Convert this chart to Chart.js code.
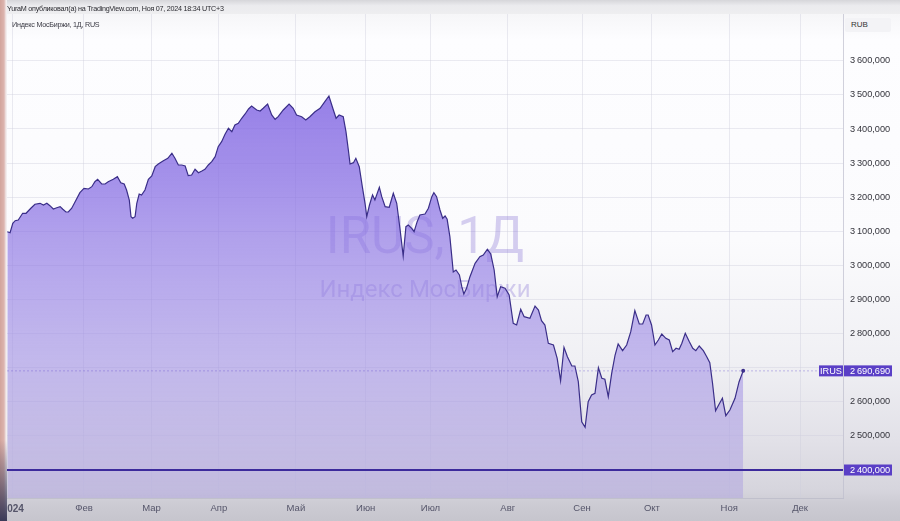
<!DOCTYPE html>
<html>
<head>
<meta charset="utf-8">
<script src="https://cdn.jsdelivr.net/npm/chart.js@4.4.1/dist/chart.umd.min.js"></script>
<style>
html,body{margin:0;padding:0;width:900px;height:521px;overflow:hidden;}
body{position:relative;font-family:"Liberation Sans",Arial,sans-serif;
 background:linear-gradient(to bottom,#e9e9ec 0px,#f6f6f8 14px,#fdfdff 40px,#fbfbfd 240px,#f0f0f4 360px,#e2e1e8 440px,#d6d5dd 490px,#cccbd3 505px,#c6c5cd 521px);}
#strip{position:absolute;left:0;top:0;width:7px;height:521px;z-index:5;background:linear-gradient(to right,#d2a49c 0px,#dcb4ae 4px,#f1e9ea 6px,#f4f1f2 7px);}
#stripb{position:absolute;left:0;top:440px;width:7px;height:81px;z-index:6;background:linear-gradient(to bottom,rgba(60,60,90,0),#3a3a58);}
#hdrbar{position:absolute;left:6px;top:0;width:894px;height:14px;background:linear-gradient(to bottom,#d6d6da,#ebebee 40%,#eeeef0);}
#hdr{position:absolute;left:7px;top:4px;font-size:7.2px;letter-spacing:-0.25px;color:#2a2a30;white-space:nowrap;z-index:7;}
#leg{position:absolute;left:12px;top:19.5px;font-size:7.2px;letter-spacing:-0.25px;color:#3a3a44;white-space:nowrap;}
#wrap{position:absolute;left:3px;top:0;width:897px;height:521px;}
#rub{position:absolute;left:845px;top:18px;width:46px;height:14px;background:#f3f3f6;border-radius:2px;font-size:8px;color:#333;line-height:14px;text-indent:6px;}
</style>
</head>
<body>
<div id="hdrbar"></div>
<div id="wrap"><canvas id="c" width="897" height="521"></canvas></div>
<div id="strip"></div>
<div id="stripb"></div>
<div id="hdr">YuraM опубликовал(а) на TradingView.com, Ноя 07, 2024 18:34 UTC+3</div>
<div id="leg">Индекс МосБиржи, 1Д, RUS</div>
<div id="rub">RUB</div>
<script>
// ---- data (trading-day index from first bar of 2024, close value) ----
const dayIndex = [0.0,0.8,1.6,2.3,3.2,4.5,5.5,6.9,8.1,9.6,10.6,11.6,12.5,13.5,14.5,15.5,16.3,17.2,17.9,18.9,
19.9,21.3,22.5,23.8,24.8,25.7,26.5,27.7,28.7,29.6,31.1,32.3,33.3,34.3,35.0,35.8,36.3,36.8,37.5,38.0,
38.7,39.4,40.4,41.4,42.4,43.4,44.3,45.8,47.1,48.3,49.2,50.2,51.2,52.2,53.1,54.1,55.1,56.1,57.1,58.0,
59.0,60.0,61.0,61.9,62.9,63.9,64.9,65.9,66.8,67.8,68.8,69.8,70.8,71.7,73.2,74.2,75.1,76.4,77.6,78.6,
79.5,81.0,82.7,83.9,84.9,86.4,87.6,88.8,90.3,91.8,93.2,94.4,95.7,96.5,97.4,98.6,99.4,100.1,100.6,101.6,
102.3,103.3,104.2,105.0,105.5,106.3,107.2,107.9,109.2,109.9,110.9,112.1,113.3,114.3,115.3,116.2,117.0,117.7,118.7,119.4,
120.3,121.1,122.6,123.6,124.6,125.2,126.0,127.0,127.8,128.5,129.1,129.9,130.9,131.7,132.7,133.4,134.0,134.8,135.8,137.3,
138.7,139.7,140.9,141.9,142.9,143.8,144.8,146.1,147.3,148.5,149.5,150.7,151.7,153.4,154.9,155.9,156.8,157.8,158.8,160.3,
161.4,162.4,163.4,164.4,165.7,166.6,167.6,168.6,169.6,170.5,171.5,172.5,173.5,174.5,175.4,176.4,177.4,178.4,179.3,180.6,
181.8,183.0,184.2,185.5,186.5,187.5,188.1,189.1,190.1,191.1,192.1,193.3,194.3,195.3,196.3,197.2,198.0,199.0,200.2,201.2,
202.1,203.1,204.3,205.3,206.2,207.0,207.9,208.8,209.9,210.9,212.1,213.6,214.8,216.0];
const closeValues = [3098.8,3095.9,3123.5,3131.1,3133.2,3152.8,3152.8,3167.5,3179.2,3182.1,3177.1,3182.1,3175.1,3165.4,3169.2,3172.2,3164.5,3156.6,3156.6,3167.5,
3186.8,3213.2,3226.1,3224.1,3230.8,3245.5,3252.5,3238.7,3238.7,3245.5,3252.5,3260.1,3242.5,3238.7,3221.1,3191.8,3142.8,3138.1,3142.8,3182.1,
3209.4,3206.5,3221.1,3252.5,3262.2,3289.5,3297.4,3307.1,3314.1,3328.8,3314.1,3294.4,3294.4,3291.5,3263.1,3265.1,3281.8,3271.9,3276.8,3281.8,
3294.4,3304.1,3318.8,3348.1,3362.8,3384.5,3402.1,3392.1,3411.7,3416.7,3431.4,3444.0,3458.7,3467.5,3455.7,3452.8,3460.7,3473.3,3441.1,3428.5,
3436.1,3455.7,3473.3,3460.7,3441.1,3436.1,3426.4,3436.1,3450.7,3460.7,3480.1,3496.8,3455.7,3431.4,3441.1,3436.1,3392.1,3338.4,3297.4,3301.2,
3314.1,3289.5,3230.8,3182.1,3142.8,3177.1,3206.5,3191.8,3229.0,3201.5,3172.2,3170.4,3211.5,3182.1,3103.8,3027.6,3113.5,3118.5,3108.8,3098.8,
3128.2,3147.8,3150.7,3167.5,3201.5,3213.2,3201.5,3162.5,3138.1,3144.9,3135.2,3084.2,2980.7,2986.5,2971.9,2937.5,2916.1,2932.9,2966.9,3006.2,
3025.5,3030.5,3047.2,3033.4,2986.5,2908.2,2937.5,2932.9,2913.2,2830.2,2825.2,2871.3,2849.6,2844.9,2880.9,2869.2,2837.8,2825.2,2771.6,2766.6,
2727.6,2661.9,2759.8,2732.3,2705.0,2705.0,2659.0,2541.6,2525.2,2600.3,2619.9,2624.9,2700.0,2668.9,2666.0,2615.0,2683.6,2737.2,2769.5,2749.9,
2766.6,2805.6,2867.2,2828.2,2828.2,2854.6,2854.6,2825.2,2766.6,2781.2,2798.8,2786.2,2781.2,2746.9,2756.9,2754.0,2771.6,2800.9,2776.2,2756.9,
2749.9,2763.6,2749.9,2732.3,2714.7,2654.3,2573.9,2590.6,2610.3,2559.2,2576.0,2610.3,2659.0,2690.69];
const monthTickIdx = [1.6,22.5,42.3,62.1,84.7,105.2,124.2,146.9,168.7,189.2,211.9,232.7];
const monthLabels = ['2024','Фев','Мар','Апр','Май','Июн','Июл','Авг','Сен','Окт','Ноя','Дек'];
const priceTicks = [2400,2500,2600,2700,2800,2900,3000,3100,3200,3300,3400,3500,3600];
const levelValue = 2400;
const seriesName = 'IRUS';
const watermarkTitle = 'IRUS, 1Д';
const watermarkSub = 'Индекс МосБиржи';

const xMin = -0.1, xMax = 245.3;
const yMin = 2317.9, yMax = 3737.2;
const lastValue = closeValues[closeValues.length - 1];

function pad3(n){ return String(n).padStart(3,'0'); }
function fmt(v){
  const i = Math.floor(v + 1e-9);
  const dec = Math.round((v - i) * 1000);
  return Math.floor(i/1000) + '\u2009' + pad3(i % 1000) + ',' + pad3(dec);
}

Chart.defaults.font.family = '"Liberation Sans", Arial, sans-serif';

const points = dayIndex.map((x, i) => ({x: x, y: closeValues[i]}));

const watermark = {
  id: 'watermark',
  beforeDatasetsDraw(chart){
    const a = chart.chartArea, ctx = chart.ctx;
    const cx = (a.left + a.right) / 2, cy = (a.top + a.bottom) / 2;
    ctx.save();
    ctx.fillStyle = 'rgba(108,80,205,0.27)';
    ctx.textAlign = 'center';
    ctx.textBaseline = 'alphabetic';
    ctx.font = '51px Roboto, "Liberation Sans", sans-serif';
    ctx.fillText(watermarkTitle, cx, cy - 2.7);
    ctx.font = '24px Roboto, "Liberation Sans", sans-serif';
    ctx.fillText(watermarkSub, cx, cy + 40.7);
    ctx.restore();
  }
};

const priceLabels = {
  id: 'priceLabels',
  afterDraw(chart){
    const a = chart.chartArea, ctx = chart.ctx, ys = chart.scales.y;
    const box = (x, y, w, text, align) => {
      ctx.fillStyle = '#5a3fc6';
      ctx.fillRect(x, y - 5.5, w, 11);
      ctx.fillStyle = '#ffffff';
      ctx.font = '9.2px "Liberation Sans", Arial, sans-serif';
      ctx.textBaseline = 'middle';
      ctx.textAlign = align;
      ctx.fillText(text, align === 'left' ? x + 6 : x + w / 2, y + 0.5);
    };
    ctx.save();
    const yl = ys.getPixelForValue(lastValue);
    box(a.right - 24, yl, 24, seriesName, 'center');
    box(a.right + 1, yl, 48, fmt(lastValue), 'left');
    const y24 = ys.getPixelForValue(levelValue);
    box(a.right + 1, y24, 48, fmt(levelValue), 'left');
    ctx.restore();
  }
};

const gridCol = 'rgba(205,205,220,0.4)';

new Chart(document.getElementById('c'), {
  type: 'line',
  data: {
    datasets: [
      {
        label: seriesName,
        data: points,
        borderColor: '#3a2e88',
        borderWidth: 1.2,
        tension: 0,
        pointRadius: c => (c.dataIndex === points.length - 1 ? 2 : 0),
        pointBackgroundColor: '#3a2e88',
        pointBorderWidth: 0,
        fill: 'start',
        backgroundColor: c => {
          const ch = c.chart, a = ch.chartArea;
          if (!a) return 'rgba(140,115,225,0.6)';
          const g = ch.ctx.createLinearGradient(0, a.top, 0, a.bottom);
          g.addColorStop(0, 'rgba(118,88,226,0.88)');
          g.addColorStop(0.35, 'rgba(132,106,226,0.72)');
          g.addColorStop(0.7, 'rgba(150,130,228,0.52)');
          g.addColorStop(1, 'rgba(165,150,225,0.40)');
          return g;
        },
        order: 2
      },
      {
        label: 'level',
        data: [{x: xMin, y: levelValue}, {x: xMax, y: levelValue}],
        borderColor: '#3c2a9c',
        borderWidth: 2,
        pointRadius: 0,
        fill: false,
        order: 0
      },
      {
        label: 'last',
        data: [{x: xMin, y: lastValue}, {x: xMax, y: lastValue}],
        borderColor: 'rgba(95,70,200,0.35)',
        borderWidth: 1,
        borderDash: [2, 2],
        pointRadius: 0,
        fill: false,
        order: 1
      }
    ]
  },
  options: {
    responsive: false,
    animation: false,
    layout: {padding: {top: 14, left: 0, right: 0, bottom: 0}},
    plugins: {legend: {display: false}, tooltip: {enabled: false}},
    scales: {
      x: {
        type: 'linear',
        min: xMin, max: xMax,
        afterBuildTicks: s => { s.ticks = monthTickIdx.map(v => ({value: v})); },
        afterFit: s => { s.height = 23; s.paddingLeft = 0; s.paddingRight = 0; },
        ticks: {
          autoSkip: false, maxRotation: 0, minRotation: 0, padding: 5,
          color: '#55556a',
          font: c => (c.index === 0 ? {size: 10, weight: 'bold'} : {size: 9.5}),
          callback: (v, i) => monthLabels[i]
        },
        grid: {color: gridCol, drawTicks: false},
        border: {color: 'rgba(185,185,200,0.7)'}
      },
      y: {
        position: 'right',
        min: yMin, max: yMax,
        afterBuildTicks: s => { s.ticks = priceTicks.map(v => ({value: v})); },
        afterFit: s => { s.width = 57; s.paddingTop = 0; s.paddingBottom = 0; },
        ticks: {padding: 7, color: '#34343c', font: {size: 9.2},
          callback: v => (Math.abs(v - lastValue) < 25 || v === levelValue ? '' : fmt(v))},
        grid: {color: gridCol, drawTicks: false},
        border: {color: 'rgba(190,190,205,0.7)'}
      }
    }
  },
  plugins: [watermark, priceLabels]
});
</script>
</body>
</html>
